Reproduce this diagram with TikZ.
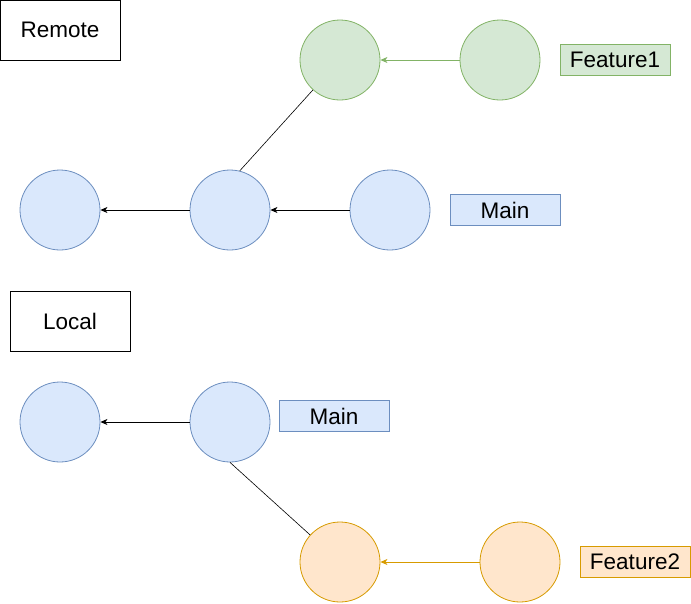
\documentclass[tikz,border=0pt]{standalone}
\usepackage{fontspec}
\setmainfont{Liberation Sans}
\usetikzlibrary{arrows.meta}
\definecolor{bluefill}{HTML}{DAE8FC}
\definecolor{bluedraw}{HTML}{6C8EBF}
\definecolor{greenfill}{HTML}{D5E8D4}
\definecolor{greendraw}{HTML}{82B366}
\definecolor{orangefill}{HTML}{FFE6CC}
\definecolor{orangedraw}{HTML}{D79B00}
\begin{document}
\begin{tikzpicture}[x=1pt,y=-1pt,
  every node/.style={font=\fontsize{22.5}{27}\selectfont, inner sep=0pt},
  commit/.style={circle, minimum size=80pt, line width=0.8pt},
  bluec/.style={commit, fill=bluefill, draw=bluedraw},
  greenc/.style={commit, fill=greenfill, draw=greendraw},
  orangec/.style={commit, fill=orangefill, draw=orangedraw},
  title/.style={rectangle, draw=black, line width=0.8pt, minimum width=120pt, minimum height=60pt},
  branch/.style={rectangle, line width=0.8pt, minimum width=110pt, minimum height=31pt},
  parent/.style={-{Stealth[length=7pt,width=6pt,inset=2pt]}, line width=0.8pt},
  link/.style={line width=0.6pt, black}]
\useasboundingbox (0,0) rectangle (691,603);

% Remote repository
\node[title] (remote) at (60,30) {Remote};
\node[bluec] (ra) at (60,210) {};
\node[bluec] (rb) at (230,210) {};
\node[bluec] (rc) at (390,210) {};
\node[greenc] (g1) at (340,60) {};
\node[greenc] (g2) at (500,60) {};
\node[branch, fill=greenfill, draw=greendraw] (f1) at (615,60) {Feature1};
\node[branch, fill=bluefill, draw=bluedraw] (rmain) at (505,210) {Main};

\draw[parent] (rc) -- (rb);
\draw[parent] (rb) -- (ra);
\draw[parent, draw=greendraw, fill=greendraw] (g2) -- (g1);
\draw[link] (rb.76) -- (g1);

% Local repository
\node[title] (local) at (70,321) {Local};
\node[bluec] (la) at (60,422) {};
\node[bluec] (lb) at (230,422) {};
\node[branch, fill=bluefill, draw=bluedraw] (lmain) at (334,416) {Main};
\node[orangec] (o1) at (340,562) {};
\node[orangec] (o2) at (520,562) {};
\node[branch, fill=orangefill, draw=orangedraw] (f2) at (635,562) {Feature2};

\draw[parent] (lb) -- (la);
\draw[parent, draw=orangedraw, fill=orangedraw] (o2) -- (o1);
\draw[link] (lb.south) -- (o1);
\end{tikzpicture}
\end{document}
